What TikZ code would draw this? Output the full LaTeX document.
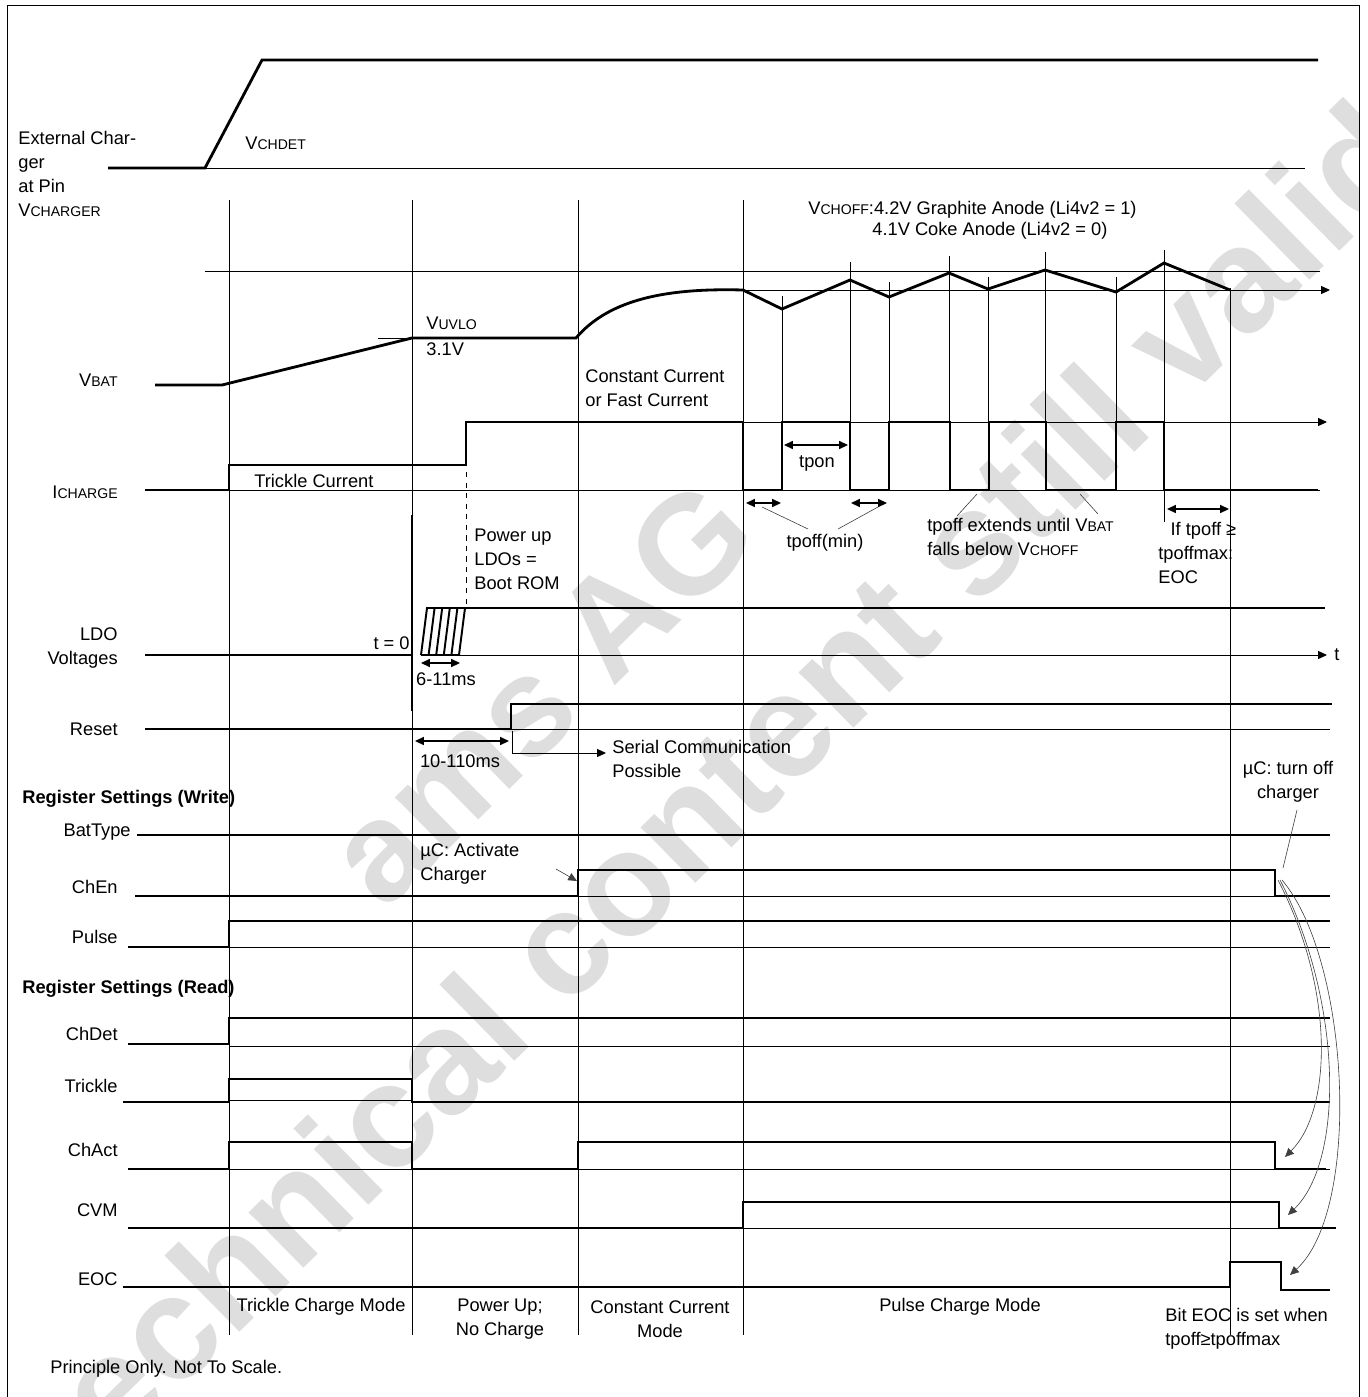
\documentclass[tikz,border=0pt]{standalone}
\usepackage{fontspec}
\setmainfont{Liberation Sans}
\usetikzlibrary{arrows.meta}
\newcommand{\lowcap}[1]{{\footnotesize #1}}
\begin{document}
\begin{tikzpicture}[x=0.02cm,y=-0.02cm,>={Stealth[length=5pt,width=4.5pt,inset=0pt]},
	sig/.style={line width=1.6pt},
	ref/.style={line width=0.5pt},
	dim/.style={<->,line width=0.9pt},
	pointer/.style={line width=0.35pt,black!75},
	lbl/.style={font=\fontsize{10.4}{13.6}\selectfont,inner sep=0pt},
	rowlbl/.style={lbl,anchor=east},
	head/.style={lbl,anchor=west,font=\bfseries\fontsize{10.4}{13.6}\selectfont},
	wmark/.style={text=black!13,font=\bfseries\fontsize{84}{84}\selectfont,rotate=44.5,inner sep=0pt}]
	
	\useasboundingbox (0,0) rectangle (1368,1397);
	
	% 1. Watermark behind everything
	\begin{scope}
		\clip (7,5) rectangle (1359,1397);
		\node[wmark] (wmtext) at (716,790) {technical content still valid};
		\node[wmark,font=\bfseries\fontsize{80}{80}\selectfont] (wmams) at (540,692) {ams AG};
	\end{scope}
	
	% 2. Frame
	\draw[ref] (7,1397) -- (7,5) -- (1359,5) -- (1359,1397);
	
	% 3. External charger at pin VCHARGER
	\node[lbl,anchor=north west,align=left] (extlbl) at (18,131) {External Char-\\ger\\at Pin\\V\lowcap{CHARGER}};
	\draw[ref] (205,168) -- (1305,168);
	\draw[sig] (108,168) -- (205,168) -- (262,60) -- (1318,60);
	\node[lbl,anchor=west] (vchdet) at (245,143) {V\lowcap{CHDET}};
	
	% 4. VCHOFF level and the mode grid lines
	\node[lbl,anchor=west] (vchoff) at (808,210) {V\lowcap{CHOFF}:4.2V Graphite Anode (Li4v2 = 1)};
	\node[lbl,anchor=west] (coke) at (872,231) {4.1V Coke Anode (Li4v2 = 0)};
	\draw[ref] (205,271) -- (1320,271);
	\foreach \x in {229,412,578,743}
		\draw[ref] (\x,200) -- (\x,1335);
	\draw[ref] (1230,288) -- (1230,1335);
	\foreach \x/\t in {782/296,850/262,889/282,949/256,988/277,1045/252,1116/277}
		\draw[ref] (\x,\t) -- (\x,490);
	\draw[ref] (1164,250) -- (1164,522);
	
	% 5. VBAT
	\node[rowlbl] (vbat) at (118,380) {V\lowcap{BAT}};
	\draw[ref] (378,338) -- (412,338);
	\draw[ref,->] (743,290) -- (1330,290);
	\draw[sig] (155,385) -- (222,385) -- (412,338) -- (576,338)
		.. controls (610,298) and (670,288) .. (743,290)
		-- (782,309) -- (850,280) -- (889,297) -- (949,273) -- (988,289)
		-- (1045,270) -- (1116,292) -- (1164,263) -- (1230,290);
	\node[lbl,anchor=west] (vuvlo) at (426,323) {V\lowcap{UVLO}};
	\node[lbl,anchor=west] (vuvlov) at (426,349) {3.1V};
	\node[lbl,anchor=west,align=left] (ccfast) at (585,388) {Constant Current\\or Fast Current};
	
	% 6. ICHARGE
	\node[rowlbl] (icharge) at (118,492) {I\lowcap{CHARGE}};
	\draw[ref] (229,490) -- (1320,490);
	\draw[ref,->] (743,422) -- (1327,422);
	\draw[sig] (145,490) -- (229,490) -- (229,465) -- (466,465) -- (466,422) -- (743,422)
		-- (743,490) -- (782,490) -- (782,422) -- (850,422) -- (850,490) -- (889,490)
		-- (889,422) -- (950,422) -- (950,490) -- (989,490) -- (989,422) -- (1046,422)
		-- (1046,490) -- (1116,490) -- (1116,422) -- (1164,422) -- (1164,490) -- (1318,490);
	\node[lbl,anchor=west] (trcur) at (254,481) {Trickle Current};
	\draw[ref,dashed] (466,472) -- (466,606);
	\draw[dim] (784,445) -- (848,445);
	\node[lbl] (tpon) at (817,463) {tpon};
	\draw[dim] (746,503) -- (781,503);
	\draw[dim] (851,503) -- (887,503);
	\node[lbl] (tpoffmin) at (825,543) {tpoff(min)};
	\draw[pointer] (808,529) -- (762,507);
	\draw[pointer] (838,529) -- (878,507);
	\node[lbl,anchor=west,align=left] (extends) at (927,537) {tpoff extends until V\lowcap{BAT}\\falls below V\lowcap{CHOFF}};
	\draw[pointer] (957,516) -- (977,494);
	\draw[pointer] (1098,514) -- (1080,494);
	\draw[dim] (1167,509) -- (1229,509);
	\node[lbl,anchor=north west,align=left] (tpoffmax) at (1158,522) {\hspace*{7pt}If tpoff ≥\\tpoffmax:\\EOC};
	
	% 7. LDO voltages
	\node[rowlbl,align=right] (ldo) at (118,648) {LDO\\Voltages};
	\draw[ref,->] (460,655) -- (1327,655);
	\node[lbl,anchor=west] (tlbl) at (1334,655) {t};
	\draw[sig] (145,655) -- (412,655);
	\draw[line width=1.1pt] (412,515) -- (412,711);
	\node[lbl,anchor=east] (tzero) at (410,643) {t = 0};
	\draw[sig] (421,655) -- (460,655);
	\draw[sig] (426,608) -- (1325,608);
	\foreach \i in {0,...,5}
		\draw[line width=1.1pt] ({421+7.6*\i},655) -- ({427+7.6*\i},608);
	\draw[dim] (421,663) -- (460,663);
	\node[lbl] (sixms) at (446,679) {6-11ms};
	\node[lbl,anchor=north west,align=left] (powerup) at (474,529) {Power up\\LDOs =\\Boot ROM};
	
	% 8. Reset
	\node[rowlbl] (reset) at (118,729) {Reset};
	\draw[ref] (511,729) -- (1330,729);
	\draw[sig] (145,729) -- (511,729) -- (511,704) -- (1332,704);
	\draw[dim] (415,741) -- (509,741);
	\node[lbl] (tenms) at (460,761) {10-110ms};
	\draw[ref] (512,731) -- (512,754);
	\draw[ref,->] (512,753) -- (606,753);
	\node[lbl,anchor=west,align=left] (serial) at (612,759) {Serial Communication\\Possible};
	
	% 9. Register settings (write)
	\node[head] (regw) at (22,799) {Register Settings (Write)};
	\node[rowlbl] (battype) at (131,832) {BatType};
	\draw[sig] (137,835) -- (1330,835);
	\node[rowlbl] (chen) at (118,887) {ChEn};
	\draw[ref] (578,896) -- (1330,896);
	\draw[sig] (135,896) -- (578,896) -- (578,870) -- (1275,870) -- (1275,896) -- (1330,896);
	\node[lbl,anchor=west,align=left] (activate) at (420,864) {µC: Activate\\Charger};
	\draw[pointer,->] (556,869) -- (577,881);
	\node[rowlbl] (pulse) at (118,937) {Pulse};
	\draw[ref] (229,947) -- (1330,947);
	\draw[sig] (128,947) -- (229,947) -- (229,921) -- (1330,921);
	
	% 10. Register settings (read)
	\node[head] (regr) at (22,989) {Register Settings (Read)};
	\node[rowlbl] (chdet) at (118,1034) {ChDet};
	\draw[ref] (229,1046) -- (1330,1046);
	\draw[sig] (128,1044) -- (229,1044) -- (229,1018) -- (1330,1018);
	\node[rowlbl] (trickle) at (118,1086) {Trickle};
	\draw[ref] (229,1100) -- (412,1100);
	\draw[sig] (123,1102) -- (229,1102) -- (229,1079) -- (412,1079) -- (412,1102) -- (1330,1102);
	\node[rowlbl] (chact) at (118,1150) {ChAct};
	\draw[ref] (229,1169) -- (1330,1169);
	\draw[sig] (128,1169) -- (229,1169) -- (229,1142) -- (412,1142) -- (412,1169) -- (578,1169)
		-- (578,1142) -- (1275,1142) -- (1275,1169) -- (1326,1169);
	\node[rowlbl] (cvm) at (118,1210) {CVM};
	\draw[ref] (743,1228) -- (1334,1228);
	\draw[sig] (128,1228) -- (743,1228) -- (743,1202) -- (1279,1202) -- (1279,1228) -- (1336,1228);
	\node[rowlbl] (eoc) at (118,1279) {EOC};
	\draw[sig] (123,1287) -- (1230,1287) -- (1230,1262) -- (1281,1262) -- (1281,1290) -- (1330,1290);
	
	% 11. Turn-off arrows from ChEn
	\node[lbl,align=center] (turnoff) at (1288,782) {µC: turn off\\charger};
	\draw[pointer] (1297,810) -- (1283,868);
	\draw[pointer,->] (1278,880) .. controls (1335,990) and (1332,1110) .. (1285,1157);
	\draw[pointer,->] (1280,880) .. controls (1342,1000) and (1345,1160) .. (1288,1215);
	\draw[pointer,->] (1282,880) .. controls (1350,960) and (1362,1210) .. (1290,1275);
	
	% 12. Mode names and notes
	\node[lbl] (trmode) at (321,1307) {Trickle Charge Mode};
	\node[lbl,align=center] (pumode) at (500,1319) {Power Up;\\No Charge};
	\node[lbl,align=center] (ccmode) at (660,1319) {Constant Current\\Mode};
	\node[lbl] (pcmode) at (960,1307) {Pulse Charge Mode};
	\node[lbl,anchor=west,align=left] (eocnote) at (1165,1329) {Bit EOC is set when\\tpoff≥tpoffmax};
	\node[lbl,anchor=west] (principle) at (50,1369) {Principle Only. Not To Scale.};
	
\end{tikzpicture}
\end{document}
